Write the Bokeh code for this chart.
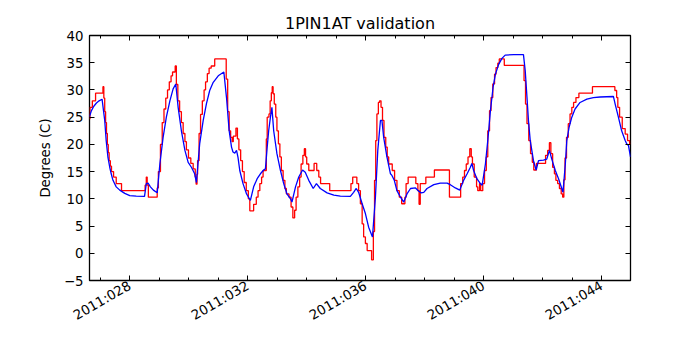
import math
from bokeh.plotting import figure
from bokeh.models import Range1d, FixedTicker, LinearAxis
from bokeh.embed import file_html
from bokeh.resources import INLINE

# ---- data (day of year 2011, degrees C) ----
red_day = [26.634, 26.65, 26.73, 26.84, 27.09, 27.12, 27.15, 27.18, 27.21, 27.24, 27.27, 27.30, 27.34, 27.38,
           27.45, 27.54, 27.72, 28.52, 28.56, 28.59, 28.63, 28.93, 28.97, 29.04, 29.10, 29.16, 29.22, 29.28,
           29.34, 29.40, 29.45, 29.54, 29.58, 29.63, 29.69, 29.75, 29.81, 29.87, 29.92, 29.99, 30.07, 30.15,
           30.22, 30.25, 30.28, 30.30, 30.35, 30.40, 30.46, 30.52, 30.57, 30.63, 30.69, 30.76, 30.88, 31.27,
           31.32, 31.37, 31.42, 31.47, 31.51, 31.60, 31.65, 31.70, 31.76, 31.82, 31.88, 31.95, 32.02, 32.07,
           32.20, 32.29, 32.35, 32.41, 32.47, 32.52, 32.63, 32.66, 32.72, 32.76, 32.80, 32.83, 32.86, 32.90,
           32.95, 32.99, 33.04, 33.09, 33.14, 33.20, 33.26, 33.31, 33.40, 33.47, 33.53, 33.59, 33.64, 33.70,
           33.76, 33.81, 33.87, 33.92, 33.96, 34.00, 34.07, 34.25, 34.34, 34.41, 34.47, 34.78, 35.50, 35.56,
           35.70, 35.76, 35.82, 35.88, 35.93, 35.99, 36.05, 36.20, 36.26, 36.30, 36.34, 36.38, 36.43, 36.47,
           36.52, 36.57, 36.62, 36.68, 36.73, 36.78, 36.90, 36.98, 37.06, 37.14, 37.22, 37.33, 37.37, 37.44,
           37.70, 37.77, 37.81, 37.85, 38.04, 38.33, 38.84, 39.22, 39.29, 39.35, 39.41, 39.47, 39.53, 39.58,
           39.62, 39.68, 39.76, 39.80, 39.86, 39.90, 39.97, 40.03, 40.09, 40.14, 40.20, 40.25, 40.31, 40.37,
           40.42, 40.48, 40.53, 40.70, 41.37, 41.42, 41.47, 41.53, 41.59, 41.65, 41.70, 41.79, 42.10, 42.17,
           42.23, 42.28, 42.34, 42.40, 42.45, 42.51, 42.57, 42.63, 42.68, 42.72, 42.76, 42.81, 42.87, 42.93,
           42.99, 43.05, 43.13, 43.23, 43.69, 44.45, 44.51, 44.55, 44.61, 44.70, 44.80, 44.88, 44.95, 44.98]
red_val = [24.7, 26.8, 28.0, 29.4, 30.6, 28.5, 26.0, 24.0, 22.0, 20.0, 18.5, 17.0, 16.0, 15.0,
           14.0, 12.8, 11.5, 12.5, 14.0, 12.5, 10.3, 12.0, 15.0, 20.0, 24.0, 26.5, 28.5, 30.0,
           31.5, 32.6, 33.3, 34.4, 31.0, 28.0, 26.0, 24.0, 22.0, 20.5, 19.0, 17.5, 16.5, 15.5,
           14.0, 12.7, 14.5, 17.0, 22.0, 25.5, 28.0, 30.0, 31.5, 33.0, 34.0, 34.4, 35.7, 32.0,
           26.0, 22.5, 21.3, 20.5, 21.5, 23.0, 21.0, 19.0, 17.0, 15.0, 13.0, 11.5, 10.0, 7.8,
           9.0, 10.3, 11.5, 12.8, 14.0, 15.2, 21.0, 25.0, 25.6, 28.0, 29.5, 30.6, 29.3, 27.4,
           25.0, 22.5, 20.1, 17.7, 15.2, 13.4, 11.9, 10.9, 10.3, 8.5, 6.5, 7.9, 10.3, 12.2,
           14.0, 16.4, 18.0, 19.2, 17.7, 16.4, 15.2, 16.5, 15.2, 14.0, 12.8, 11.5, 12.8, 14.0,
           12.8, 11.5, 9.1, 5.4, 3.0, 1.8, 0.5, -1.2, 4.0, 13.4, 20.7, 25.6, 27.7, 28.0,
           26.8, 24.4, 21.3, 19.5, 17.7, 16.4, 15.2, 13.4, 11.5, 10.3, 9.1, 10.3, 12.8, 14.0,
           12.8, 11.5, 9.0, 12.8, 14.0, 15.3, 10.3, 12.8, 14.0, 15.2, 16.4, 17.7, 19.2, 17.7,
           16.4, 14.0, 12.2, 11.5, 12.8, 11.5, 12.8, 15.2, 17.7, 22.5, 26.2, 28.6, 31.1, 32.9,
           34.1, 34.9, 35.7, 34.5, 31.7, 27.4, 23.8, 20.7, 18.3, 16.7, 15.3, 16.5, 18.0, 18.9,
           20.3, 18.3, 15.8, 14.6, 13.4, 12.8, 11.9, 10.9, 10.3, 13.5, 17.5, 21.3, 23.8, 25.6,
           26.8, 27.7, 28.6, 29.4, 30.6, 29.9, 28.6, 26.8, 25.0, 22.9, 21.9, 20.7, 20.1, 20.1]

blue_day = [26.634, 26.70, 26.78, 26.87, 26.96, 27.06, 27.15, 27.20, 27.26, 27.32, 27.37, 27.43, 27.54, 27.66,
            27.83, 28.00, 28.22, 28.50, 28.56, 28.62, 28.70, 28.80, 28.93, 29.02, 29.13, 29.24, 29.36, 29.47,
            29.56, 29.64, 29.75, 29.87, 29.98, 30.09, 30.20, 30.26, 30.37, 30.49, 30.60, 30.71, 30.83, 31.00,
            31.19, 31.28, 31.37, 31.45, 31.50, 31.56, 31.62, 31.67, 31.73, 31.84, 31.96, 32.09, 32.20, 32.32,
            32.43, 32.54, 32.60, 32.66, 32.71, 32.77, 32.82, 32.88, 32.99, 33.11, 33.22, 33.33, 33.45, 33.50,
            33.62, 33.73, 33.86, 33.95, 34.07, 34.22, 34.33, 34.46, 34.69, 34.92, 35.14, 35.48, 35.59, 35.68,
            35.76, 35.88, 35.99, 36.10, 36.23, 36.33, 36.41, 36.50, 36.55, 36.61, 36.72, 36.84, 36.89, 36.97,
            37.06, 37.18, 37.29, 37.40, 37.52, 37.69, 37.80, 37.88, 37.97, 38.08, 38.31, 38.53, 38.76, 38.87,
            39.04, 39.19, 39.32, 39.44, 39.55, 39.60, 39.66, 39.77, 39.89, 39.95, 40.06, 40.14, 40.23, 40.32,
            40.40, 40.51, 40.62, 40.73, 41.02, 41.35, 41.41, 41.47, 41.52, 41.58, 41.69, 41.78, 41.86, 42.03,
            42.14, 42.23, 42.31, 42.43, 42.54, 42.65, 42.69, 42.77, 42.82, 42.90, 42.99, 43.10, 43.27, 43.50,
            43.72, 43.95, 44.40, 44.46, 44.57, 44.68, 44.80, 44.85, 44.91, 44.98]
blue_val = [25.1, 26.2, 27.0, 27.6, 28.0, 28.3, 24.4, 20.7, 17.6, 15.8, 14.6, 13.4, 12.2, 11.6,
            11.0, 10.6, 10.5, 10.45, 12.8, 12.9, 12.2, 11.6, 11.1, 16.4, 21.3, 25.0, 28.0, 30.2,
            31.1, 26.8, 22.5, 18.9, 16.7, 15.8, 14.6, 13.0, 20.1, 24.4, 27.5, 29.9, 31.4, 32.6,
            33.3, 28.6, 22.5, 19.5, 18.6, 18.4, 18.9, 17.6, 15.2, 12.8, 10.9, 9.7, 12.2, 13.7,
            14.6, 15.3, 15.5, 19.5, 22.5, 25.0, 26.8, 22.5, 18.3, 15.2, 12.8, 10.9, 10.0, 9.4,
            12.2, 14.0, 15.3, 14.9, 13.4, 11.9, 12.8, 11.9, 11.1, 10.7, 10.5, 10.45, 11.2, 11.9,
            11.2, 9.1, 7.3, 4.8, 3.0, 10.3, 18.9, 24.4, 24.4, 21.3, 17.7, 14.6, 14.3, 13.4,
            11.5, 10.3, 9.4, 10.9, 11.9, 12.0, 11.4, 11.1, 11.2, 11.9, 12.6, 12.9, 12.9, 12.6,
            12.0, 11.6, 13.4, 14.6, 15.8, 16.5, 15.2, 13.7, 12.8, 12.5, 16.4, 20.7, 26.2, 30.5,
            32.9, 34.7, 35.8, 36.4, 36.5, 36.5, 33.5, 28.6, 24.4, 20.7, 17.0, 15.3, 17.0, 17.1,
            17.3, 18.9, 17.3, 15.2, 13.7, 11.9, 11.2, 16.4, 20.7, 23.2, 25.0, 26.5, 27.7, 28.3,
            28.6, 28.7, 28.8, 27.4, 25.0, 22.5, 20.7, 20.1, 19.8, 17.7]

tick_days = [28, 32, 36, 40, 44]
tick_labels = ["2011:028", "2011:032", "2011:036", "2011:040", "2011:044"]
minor_days = list(range(26, 46))
y_ticks = [-5, 0, 5, 10, 15, 20, 25, 30, 35, 40]
y_min, y_max = -5, 40
x_min, x_max = 26.634, 44.98

FONT = "DejaVu Sans"

p = figure(width=692, height=342, output_backend="svg", toolbar_location=None,
           x_range=Range1d(x_min, x_max), y_range=Range1d(y_min, y_max),
           min_border_left=89, min_border_right=62, min_border_top=35, min_border_bottom=62,
           x_axis_location=None, y_axis_location=None)

p.title.text = "1PIN1AT validation"
p.title.align = "center"
p.title.text_font = FONT
p.title.text_font_size = "16px"
p.title.text_font_style = "normal"
p.title.text_color = "black"
p.title.standoff = 6

p.grid.visible = False
p.outline_line_color = "black"
p.outline_line_width = 1.3
p.outline_line_alpha = 1.0
p.background_fill_color = "white"
p.border_fill_color = "white"

xticker = FixedTicker(ticks=tick_days, minor_ticks=minor_days)
yticker = FixedTicker(ticks=y_ticks, minor_ticks=[])


def style(ax, labels=True):
    ax.axis_line_color = None
    ax.major_tick_in = 5
    ax.major_tick_out = 0
    ax.minor_tick_in = 3
    ax.minor_tick_out = 0
    ax.major_tick_line_color = "black"
    ax.minor_tick_line_color = "black"
    ax.major_label_text_font = FONT
    if labels:
        ax.major_label_text_color = "black"
        ax.major_label_text_font_size = "13.3px"
    else:
        ax.major_label_text_color = None
        ax.major_label_text_alpha = 0
        ax.major_label_text_font_size = "1px"
        ax.major_label_standoff = 0


xb = LinearAxis(ticker=xticker)
style(xb)
xb.major_label_overrides = {d: lab for d, lab in zip(tick_days, tick_labels)}
xb.major_label_orientation = math.pi / 6
xb.major_label_standoff = 4
p.add_layout(xb, "below")

xt = LinearAxis(ticker=xticker)
style(xt, labels=False)
p.add_layout(xt, "above")

yl = LinearAxis(ticker=yticker, axis_label="Degrees (C)")
style(yl)
yl.major_label_overrides = {-5: "\u22125"}
yl.major_label_standoff = 6
yl.axis_label_text_font = FONT
yl.axis_label_text_font_size = "13.3px"
yl.axis_label_text_font_style = "normal"
yl.axis_label_text_color = "black"
yl.axis_label_standoff = 8
p.add_layout(yl, "left")

yr = LinearAxis(ticker=yticker)
style(yr, labels=False)
p.add_layout(yr, "right")

p.step(red_day, red_val, mode="after", line_color="#ff0000", line_width=1.3)
p.line(blue_day, blue_val, line_color="#0000ff", line_width=1.3)

open("out.html", "w").write(file_html(p, INLINE))
